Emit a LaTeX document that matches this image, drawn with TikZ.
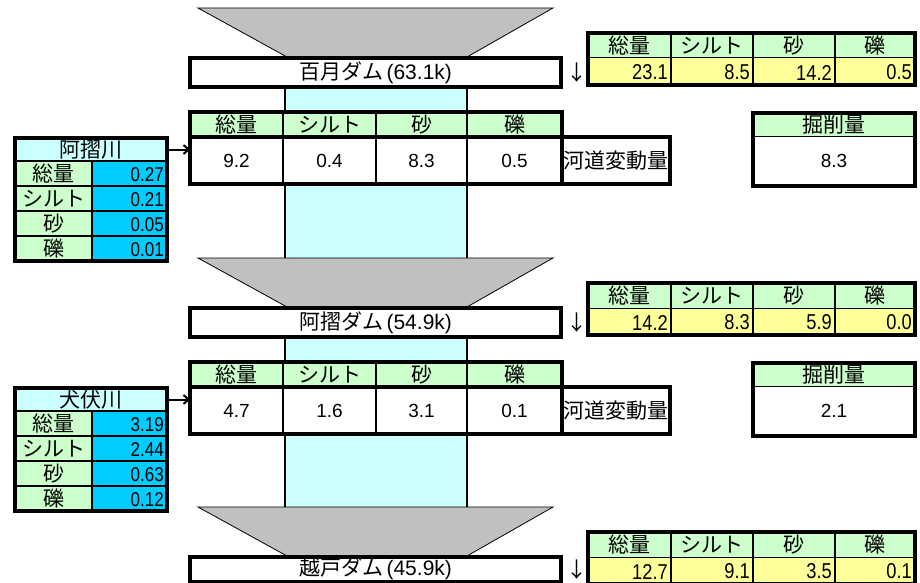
\documentclass[tikz,border=0pt]{standalone}
\usepackage{fontspec}
\setmainfont{Liberation Sans}
\newfontfamily\jp{Noto Sans CJK JP}
\newfontfamily\narrownum[FakeStretch=0.85]{Liberation Sans}
\usetikzlibrary{arrows.meta}
\definecolor{hdrgreen}{HTML}{CCFFCC}
\definecolor{valyellow}{HTML}{FFFF99}
\definecolor{valblue}{HTML}{00CCFF}
\definecolor{lightcyan}{HTML}{CCFFFF}
\definecolor{damgray}{HTML}{C0C0C0}
\newcommand\jpt{\jp\fontsize{21}{24}\selectfont}
\newcommand\numt{\rmfamily\fontsize{19}{22}\selectfont}
\newcommand\damnum{\rmfamily\fontsize{21}{24}\selectfont}
\newcommand\outnum{\narrownum\fontsize{21.5}{24}\selectfont}
\newcommand\innum{\narrownum\fontsize{20}{23}\selectfont}
\tikzset{
  cellbase/.style={draw, line width=1pt, inner sep=0pt, outer sep=0pt},
  hdr/.style={cellbase, fill=hdrgreen, font=\jpt},
  yel/.style={cellbase, fill=valyellow},
  blu/.style={cellbase, fill=valblue},
  wht/.style={cellbase, fill=white, font=\numt},
  ttl/.style={cellbase, fill=lightcyan, font=\jpt},
  outval/.style={anchor=east, inner sep=0pt, font=\outnum},
  inval/.style={anchor=east, inner sep=0pt, font=\innum},
  frame/.style={line width=3.5pt},
  sep/.style={line width=2.3pt},
  funnel/.style={fill=damgray, draw=black, line width=0.8pt},
  damlabel/.style={cellbase, fill=white, line width=3.5pt, font=\jpt},
  inarrow/.style={line width=2pt, -{Straight Barb[length=5pt,width=9pt]}},
  downmark/.style={inner sep=0pt, font=\jpt}
}
% name, x1, y1, x2, y2, style, text
\newcommand\cellbox[7]{\node[#6, minimum width={(#4-#2)*1pt}, minimum height={(#5-#3)*1pt}] (#1) at ({(#2+#4)/2},{(#3+#5)/2}) {#7};}
% outflow table: suffix, ytop, v1..v4
\newcommand\outtable[6]{%
  \pgfmathsetmacro\ya{#2}\pgfmathsetmacro\yb{#2+25}\pgfmathsetmacro\yc{#2+52}%
  \cellbox{o#1h1}{588}{\ya}{671}{\yb}{hdr}{総量}
  \cellbox{o#1h2}{671}{\ya}{753}{\yb}{hdr}{シルト}
  \cellbox{o#1h3}{753}{\ya}{835}{\yb}{hdr}{砂}
  \cellbox{o#1h4}{835}{\ya}{915}{\yb}{hdr}{礫}
  \cellbox{o#1d1}{588}{\yb}{671}{\yc}{yel}{}
  \cellbox{o#1d2}{671}{\yb}{753}{\yc}{yel}{}
  \cellbox{o#1d3}{753}{\yb}{835}{\yc}{yel}{}
  \cellbox{o#1d4}{835}{\yb}{915}{\yc}{yel}{}
  \node[outval] (o#1v1) at ([xshift=-3pt,yshift=-1pt]o#1d1.east) {#3};
  \node[outval] (o#1v2) at ([xshift=-3pt,yshift=-1pt]o#1d2.east) {#4};
  \node[outval] (o#1v3) at ([xshift=-3pt,yshift=-1pt]o#1d3.east) {#5};
  \node[outval] (o#1v4) at ([xshift=-3pt,yshift=-1pt]o#1d4.east) {#6};
  \draw[sep] (o#1h2.north west) -- (o#1d2.south west);
  \draw[sep] (o#1h3.north west) -- (o#1d3.south west);
  \draw[sep] (o#1h4.north west) -- (o#1d4.south west);
  \draw[frame] (o#1h1.north west) rectangle (o#1d4.south east);
}
% middle table: suffix, ytop, v1..v4, excavation
\newcommand\midtable[7]{%
  \pgfmathsetmacro\ya{#2}\pgfmathsetmacro\yb{#2+25}\pgfmathsetmacro\yc{#2+72}%
  \pgfmathsetmacro\ye{#2+1}\pgfmathsetmacro\yf{#2+24}\pgfmathsetmacro\yg{#2+74}%
  \cellbox{m#1h1}{190}{\ya}{283}{\yb}{hdr}{総量}
  \cellbox{m#1h2}{283}{\ya}{376}{\yb}{hdr}{シルト}
  \cellbox{m#1h3}{376}{\ya}{467}{\yb}{hdr}{砂}
  \cellbox{m#1h4}{467}{\ya}{562}{\yb}{hdr}{礫}
  \cellbox{m#1d1}{190}{\yb}{283}{\yc}{wht}{#3}
  \cellbox{m#1d2}{283}{\yb}{376}{\yc}{wht}{#4}
  \cellbox{m#1d3}{376}{\yb}{467}{\yc}{wht}{#5}
  \cellbox{m#1d4}{467}{\yb}{562}{\yc}{wht}{#6}
  \cellbox{m#1k}{562}{\yb}{670}{\yc}{wht, font=\jpt}{河道変動量}
  \draw[sep] (m#1h2.north west) -- (m#1d2.south west);
  \draw[sep] (m#1h3.north west) -- (m#1d3.south west);
  \draw[sep] (m#1h4.north west) -- (m#1d4.south west);
  \draw[frame] (m#1d1.north west) -- (m#1d4.north east);
  \draw[frame] (m#1h1.north west) rectangle (m#1d4.south east);
  \draw[frame] (m#1k.north west) rectangle (m#1k.south east);
  \cellbox{m#1eh}{753}{\ye}{915}{\yf}{hdr}{掘削量}
  \cellbox{m#1ed}{753}{\yf}{915}{\yg}{wht}{#7}
  \draw[frame] (m#1eh.north west) rectangle (m#1ed.south east);
}
% inflow table: suffix, ytop, title, v1..v4
\newcommand\intable[7]{%
  \pgfmathsetmacro\ya{#2}\pgfmathsetmacro\yb{#2+23}\pgfmathsetmacro\yc{#2+48}%
  \pgfmathsetmacro\yd{#2+73}\pgfmathsetmacro\ye{#2+98}\pgfmathsetmacro\yf{#2+123}%
  \cellbox{i#1t}{15}{\ya}{167}{\yb}{ttl}{#3}
  \cellbox{i#1l1}{15}{\yb}{92}{\yc}{hdr}{総量}
  \cellbox{i#1l2}{15}{\yc}{92}{\yd}{hdr}{シルト}
  \cellbox{i#1l3}{15}{\yd}{92}{\ye}{hdr}{砂}
  \cellbox{i#1l4}{15}{\ye}{92}{\yf}{hdr}{礫}
  \cellbox{i#1b1}{92}{\yb}{167}{\yc}{blu}{}
  \cellbox{i#1b2}{92}{\yc}{167}{\yd}{blu}{}
  \cellbox{i#1b3}{92}{\yd}{167}{\ye}{blu}{}
  \cellbox{i#1b4}{92}{\ye}{167}{\yf}{blu}{}
  \node[inval] (i#1v1) at ([xshift=-3pt,yshift=-1pt]i#1b1.east) {#4};
  \node[inval] (i#1v2) at ([xshift=-3pt,yshift=-1pt]i#1b2.east) {#5};
  \node[inval] (i#1v3) at ([xshift=-3pt,yshift=-1pt]i#1b3.east) {#6};
  \node[inval] (i#1v4) at ([xshift=-3pt,yshift=-1pt]i#1b4.east) {#7};
  \draw[sep] (i#1l1.north west) -- (i#1b1.north east);
  \draw[sep] (i#1l2.north west) -- (i#1b2.north east);
  \draw[sep] (i#1l3.north west) -- (i#1b3.north east);
  \draw[sep] (i#1l4.north west) -- (i#1b4.north east);
  \draw[sep] (i#1b1.north west) -- (i#1b4.south west);
  \draw[frame] (i#1t.north west) rectangle (i#1b4.south east);
}
% dam: suffix, ytop, ybottom, label
\newcommand\dam[4]{%
  \pgfmathsetmacro\ya{#2-50}\pgfmathsetmacro\yb{#2-1}\pgfmathsetmacro\ym{(#2+#3)/2}%
  \draw[funnel] (198,\ya) -- (553,\ya) -- (467,\yb) -- (287,\yb) -- cycle;
  \cellbox{d#1}{190}{#2}{561}{#3}{damlabel}{#4}
  \node[downmark] (dn#1) at (577,\ym) {↓};
}
\begin{document}
\begin{tikzpicture}[x=1pt,y=-1pt]
\useasboundingbox (0,0) rectangle (920,583);
% channel
\fill[lightcyan] (285,87) rectangle (467,512);
\draw[line width=2.5pt] (285,87) -- (285,512);
\draw[line width=2.5pt] (467,87) -- (467,512);
% section 1
\dam{1}{58}{87}{百月ダム\,{\damnum(63.1k)}}
\outtable{1}{33}{23.1}{8.5}{14.2}{0.5}
\midtable{1}{112}{9.2}{0.4}{8.3}{0.5}{8.3}
\intable{1}{138}{阿摺川}{0.27}{0.21}{0.05}{0.01}
\draw[inarrow] (i1t.east) -- (i1t.east -| m1d1.west);
% section 2
\dam{2}{308}{337}{阿摺ダム\,{\damnum(54.9k)}}
\outtable{2}{283}{14.2}{8.3}{5.9}{0.0}
\midtable{2}{362}{4.7}{1.6}{3.1}{0.1}{2.1}
\intable{2}{388}{犬伏川}{3.19}{2.44}{0.63}{0.12}
\draw[inarrow] (i2t.east) -- (i2t.east -| m2d1.west);
% section 3
\dam{3}{557}{581.5}{越戸ダム\,{\damnum(45.9k)}}
\outtable{3}{532}{12.7}{9.1}{3.5}{0.1}
\end{tikzpicture}
\end{document}
